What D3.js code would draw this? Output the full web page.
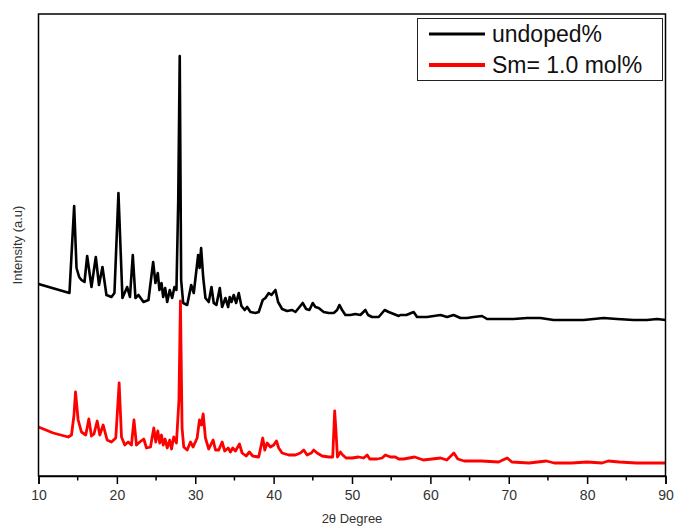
<!DOCTYPE html>
<html>
<head>
<meta charset="utf-8">
<script src="https://cdn.jsdelivr.net/npm/d3@7"></script>
<style>
  body { margin: 0; background: #fff; }
  svg { display: block; font-family: "Liberation Sans", Arial, sans-serif; }
</style>
</head>
<body>
<script>
// XRD patterns (2theta in degrees, intensity in a.u.)
var seriesNames = ["undoped%", "Sm= 1.0 mol%"];
var seriesColors = ["#000000", "#ff0000"];

var theta_undoped = [10.0, 13.95, 14.55, 14.85, 15.19, 15.48, 15.87, 16.21, 16.76, 17.31, 17.72, 18.16, 18.67, 19.31, 19.69,
  20.2, 20.71, 21.31, 21.67, 22.03, 22.37, 22.76, 23.39, 24.03, 24.63, 24.92, 25.22, 25.43, 25.69, 25.91, 26.16, 26.42,
  26.75, 27.05, 27.35, 27.6, 27.83, 28.02, 28.2, 28.46, 28.97, 29.48, 29.81, 30.37, 30.56, 30.75, 31.01, 31.3, 31.72,
  32.07, 32.36, 32.7, 33.13, 33.43, 33.85, 34.2, 34.4, 34.62, 34.91, 35.22, 35.55, 35.89, 36.31, 36.62, 37.04, 37.68,
  38.1, 38.61, 38.95, 39.38, 39.72, 40.23, 40.57, 41.08, 41.72, 42.36, 42.78, 43.2, 43.71, 44.15, 44.57, 44.99, 45.33,
  45.75, 46.39, 47.03, 47.67, 48.1, 48.39, 48.74, 49.16, 49.8, 50.43, 51.07, 51.71, 52.05, 52.56, 53.41, 54.17, 54.68,
  55.32, 55.96, 56.17, 56.94, 57.87, 58.3, 59.58, 61.28, 62.13, 62.97, 63.83, 64.68, 65.52, 66.59, 67.23, 68.93, 70.62,
  72.33, 74.03, 75.73, 77.44, 79.55, 80.83, 82.1, 83.81, 85.93, 87.64, 88.92, 90.0];
var int_undoped = [192, 183, 270, 208, 199, 196, 194, 220, 189, 219, 191, 209, 181, 179, 183,
  283, 178, 189, 179, 221, 178, 181, 174, 176, 214, 193, 203, 186, 193, 179, 188, 174,
  186, 178, 189, 186, 276, 420, 196, 173, 171, 191, 183, 221, 208, 228, 199, 178, 174,
  189, 173, 171, 188, 169, 178, 169, 179, 174, 181, 173, 183, 170, 166, 169, 164, 163,
  164, 176, 178, 183, 181, 186, 174, 167, 165, 166, 164, 168, 173, 167, 166, 173, 169,
  168, 164, 163, 163, 166, 171, 166, 161, 161, 162, 161, 166, 161, 159, 159, 166, 164,
  162, 160, 161, 161, 164, 159, 159, 161, 159, 161, 158, 158, 159, 160, 157, 157, 157,
  158, 158, 156, 156, 156, 157, 158, 157, 156, 156, 157, 156];

var theta_sm = [10.0, 11.88, 13.79, 14.21, 14.53, 14.72, 15.06, 15.48, 16.03, 16.42, 16.76, 17.08, 17.49, 17.82, 18.25,
  18.76, 19.31, 19.86, 20.29, 20.59, 21.01, 21.44, 21.86, 22.18, 22.5, 22.92, 23.43, 23.78, 24.29, 24.71, 24.96, 25.22,
  25.47, 25.69, 25.91, 26.16, 26.42, 26.75, 26.97, 27.26, 27.6, 27.92, 28.11, 28.32, 28.53, 28.97, 29.39, 29.73, 30.24,
  30.54, 30.79, 31.01, 31.3, 31.72, 32.28, 32.58, 33.0, 33.43, 33.76, 34.2, 34.49, 34.78, 35.13, 35.64, 35.98, 36.49,
  36.91, 37.33, 38.1, 38.61, 38.87, 39.17, 39.59, 40.01, 40.36, 40.65, 41.08, 41.93, 42.78, 43.42, 43.84, 44.27, 44.82,
  45.11, 45.55, 46.19, 47.03, 47.54, 47.79, 47.97, 48.14, 48.52, 48.81, 49.25, 50.01, 50.85, 51.49, 51.93, 52.26, 53.2,
  53.84, 54.26, 54.9, 55.54, 55.96, 56.6, 58.0, 59.1, 61.3, 62.1, 63.0, 63.5, 64.3, 66.5, 68.7, 69.8, 70.4, 72.6, 74.8,
  75.8, 78.0, 80.0, 81.9, 82.7, 84.1, 86.3, 88.5, 90.0];
var int_sm = [49, 43, 39, 41, 61, 84, 56, 44, 41, 57, 40, 42, 55, 41, 51,
  36, 34, 38, 93, 39, 31, 34, 31, 56, 31, 34, 37, 28, 29, 48, 34, 45,
  33, 41, 31, 37, 28, 36, 27, 39, 33, 76, 175, 48, 29, 26, 34, 29, 38,
  56, 51, 62, 38, 27, 36, 26, 26, 34, 25, 28, 24, 28, 25, 32, 23, 20,
  24, 20, 19, 38, 26, 33, 29, 31, 35, 28, 23, 21, 21, 23, 26, 21, 23,
  26, 23, 20, 19, 19, 65, 43, 19, 24, 21, 18, 18, 19, 18, 21, 17, 17,
  18, 21, 19, 19, 17, 17, 19, 16, 18, 16, 23, 17, 15, 15, 14, 18, 14, 13, 15,
  13, 13, 14, 13, 15, 14, 13, 13, 13];

var xTicks = [10, 20, 30, 40, 50, 60, 70, 80, 90];
var xMinorTicks = [15, 25, 35, 45, 55, 65, 75, 85];

var width = 674,
    height = 526;

var margin = {
    top: 14,
    right: 8.5,
    bottom: 50,
    left: 38.5
};

var x = d3.scaleLinear()
    .domain([10, 90])
    .range([margin.left, width - margin.right]);

var y = d3.scaleLinear()
    .domain([0, 462])
    .range([height - margin.bottom, margin.top]);

var svg = d3.select("body").append("svg")
    .attr("width", width)
    .attr("height", height);

// the curves
var line = d3.line()
    .x(function(d) { return x(d[0]); })
    .y(function(d) { return y(d[1]); });

var series = [
    d3.zip(theta_undoped, int_undoped),
    d3.zip(theta_sm, int_sm)
];

// red drawn first so black sits on top where they touch
svg.append("path")
    .datum(series[1])
    .attr("fill", "none")
    .attr("stroke", seriesColors[1])
    .attr("stroke-width", 2.8)
    .attr("stroke-linejoin", "round")
    .attr("d", line);

svg.append("path")
    .datum(series[0])
    .attr("fill", "none")
    .attr("stroke", seriesColors[0])
    .attr("stroke-width", 2.6)
    .attr("stroke-linejoin", "round")
    .attr("d", line);

// frame
svg.append("rect")
    .attr("x", x(10))
    .attr("y", y(462))
    .attr("width", x(90) - x(10))
    .attr("height", y(0) - y(462))
    .attr("fill", "none")
    .attr("stroke", "#000")
    .attr("stroke-width", 1.5);

// x axis
var xAxis = svg.append("g")
    .attr("transform", "translate(0," + y(0) + ")")
    .call(d3.axisBottom(x).tickValues(xTicks).tickSize(8).tickPadding(6).tickFormat(d3.format("d")));
xAxis.select(".domain").attr("stroke-width", 1.5);
xAxis.selectAll(".tick line").attr("stroke-width", 1.5);
xAxis.selectAll("text")
    .attr("fill", "#333")
    .style("font-size", "14px")
    .style("font-family", "'Liberation Sans', Arial, sans-serif");

svg.append("g")
    .attr("transform", "translate(0," + y(0) + ")")
    .selectAll("line")
    .data(xMinorTicks)
  .enter().append("line")
    .attr("x1", function(d) { return x(d); })
    .attr("x2", function(d) { return x(d); })
    .attr("y1", 0)
    .attr("y2", 4.5)
    .attr("stroke", "#000")
    .attr("stroke-width", 1.5);

svg.append("text")
    .attr("x", (x(10) + x(90)) / 2)
    .attr("y", 523)
    .attr("text-anchor", "middle")
    .attr("fill", "#333")
    .style("font-size", "13px")
    .text("2θ Degree");

svg.append("text")
    .attr("transform", "translate(22," + (y(0) + y(462)) / 2 + ") rotate(-90)")
    .attr("text-anchor", "middle")
    .attr("fill", "#333")
    .style("font-size", "13px")
    .text("Intensity (a.u)");

// legend
var legend = svg.append("g");
legend.append("rect")
    .attr("x", 417.5)
    .attr("y", 18.5)
    .attr("width", 245)
    .attr("height", 62)
    .attr("fill", "#fff")
    .attr("stroke", "#222")
    .attr("stroke-width", 1);

var legendRows = legend.selectAll(".row")
    .data(seriesNames)
  .enter().append("g")
    .attr("class", "row")
    .attr("transform", function(d, i) { return "translate(0," + (34 + i * 31) + ")"; });

legendRows.append("line")
    .attr("x1", 429)
    .attr("x2", 485)
    .attr("stroke", function(d, i) { return seriesColors[i]; })
    .attr("stroke-width", function(d, i) { return i ? 4 : 3; });

legendRows.append("text")
    .attr("x", 492)
    .attr("dy", "0.33em")
    .attr("fill", "#111")
    .style("font-size", "23px")
    .text(function(d) { return d; });
</script>
</body>
</html>
